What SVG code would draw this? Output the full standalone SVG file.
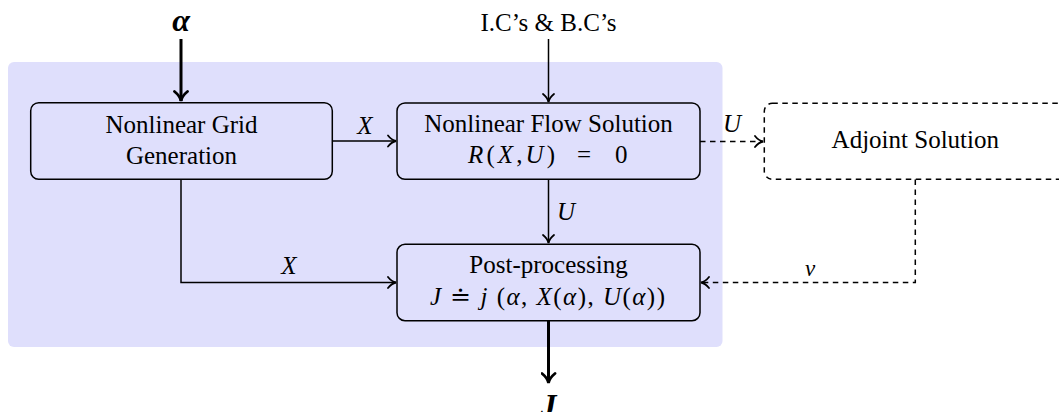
<svg xmlns="http://www.w3.org/2000/svg" width="1059" height="412" viewBox="0 0 1059 412" font-family="'Liberation Serif', 'DejaVu Serif', serif">
<style>
text{font-family:'Liberation Serif','DejaVu Serif',serif;font-size:25px;fill:#000}
.c{text-anchor:middle}
.i{font-style:italic}
.box{fill:none;stroke:#000;stroke-width:1.5}
.dash{stroke-dasharray:5.5 4.5}
.ln{fill:none;stroke:#000;stroke-width:1.5}
.thick{fill:none;stroke:#000;stroke-width:3}
.big{font-size:32px;font-weight:bold;font-style:italic}
</style>
<defs>
<marker id="ah" viewBox="0 0 14 14" refX="11.5" refY="7" markerWidth="14" markerHeight="14" markerUnits="userSpaceOnUse" orient="auto">
<path d="M3.5,1.5 Q7,6 11.5,7 Q7,8 3.5,12.5" fill="none" stroke="#000" stroke-width="1.8" stroke-linecap="round"/>
</marker>
<marker id="ahb" viewBox="0 0 16 16" refX="13" refY="8" markerWidth="16" markerHeight="16" markerUnits="userSpaceOnUse" orient="auto">
<path d="M3.5,1.5 Q8,7 13,8 Q8,9 3.5,14.5" fill="none" stroke="#000" stroke-width="2.8" stroke-linecap="round"/>
</marker>
</defs>
<rect id="panel" x="8" y="62" width="714.5" height="285" rx="6" fill="#DFDFFC"/>
<g id="connectors">
<line class="thick" x1="181" y1="39" x2="181" y2="101" marker-end="url(#ahb)"/>
<line class="ln" x1="548.5" y1="39" x2="548.5" y2="102" marker-end="url(#ah)"/>
<line class="ln" x1="332.5" y1="141" x2="396" y2="141" marker-end="url(#ah)"/>
<polyline class="ln" points="181,179.5 181,282.5 396,282.5" marker-end="url(#ah)"/>
<line class="ln" x1="548.5" y1="179.5" x2="548.5" y2="243" marker-end="url(#ah)"/>
<line class="ln dash" x1="700" y1="141.5" x2="763" y2="141.5" marker-end="url(#ah)"/>
<polyline class="ln dash" points="915.3,179.5 915.3,282.5 701,282.5" marker-end="url(#ah)"/>
<line class="thick" x1="548.5" y1="321" x2="548.5" y2="383" marker-end="url(#ahb)"/>
<text class="i c" x="365" y="134">X</text>
<text class="i c" x="289" y="274">X</text>
<text class="i c" x="566" y="220">U</text>
<text class="i c" x="732" y="132">U</text>
<text class="i c" x="810" y="276" style="font-size:23px">v</text>
</g>
<g id="alpha"><text class="c big" x="181" y="31">α</text></g>
<g id="ics"><text class="c" x="548.5" y="31">I.C’s &amp; B.C’s</text></g>
<g id="grid">
<rect class="box" x="30.7" y="102.7" width="301.6" height="76.6" rx="8"/>
<text class="c" x="181.5" y="133">Nonlinear Grid</text>
<text class="c" x="181.5" y="164">Generation</text>
</g>
<g id="flow">
<rect class="box" x="397" y="103" width="303" height="76.3" rx="8"/>
<text class="c" x="548.5" y="132">Nonlinear Flow Solution</text>
<text x="468" y="163" textLength="87" lengthAdjust="spacing"><tspan class="i">R</tspan>(<tspan class="i">X</tspan>,<tspan class="i">U</tspan>)</text>
<text x="577" y="163">=</text>
<text x="615" y="163">0</text>
</g>
<g id="post">
<rect class="box" x="397" y="244.3" width="303" height="76.4" rx="8"/>
<text class="c" x="548.5" y="273">Post-processing</text>
<text x="430" y="305" textLength="235" lengthAdjust="spacing"><tspan class="i">J</tspan> ≐ <tspan class="i">j</tspan> (<tspan class="i">α</tspan>, <tspan class="i">X</tspan>(<tspan class="i">α</tspan>), <tspan class="i">U</tspan>(<tspan class="i">α</tspan>))</text>
</g>
<g id="adjoint">
<rect class="box dash" x="764.3" y="103.3" width="303" height="76" rx="8"/>
<text class="c" x="915.3" y="148">Adjoint Solution</text>
</g>
<g id="J"><text class="c big" x="548.5" y="416">J</text></g>
</svg>
